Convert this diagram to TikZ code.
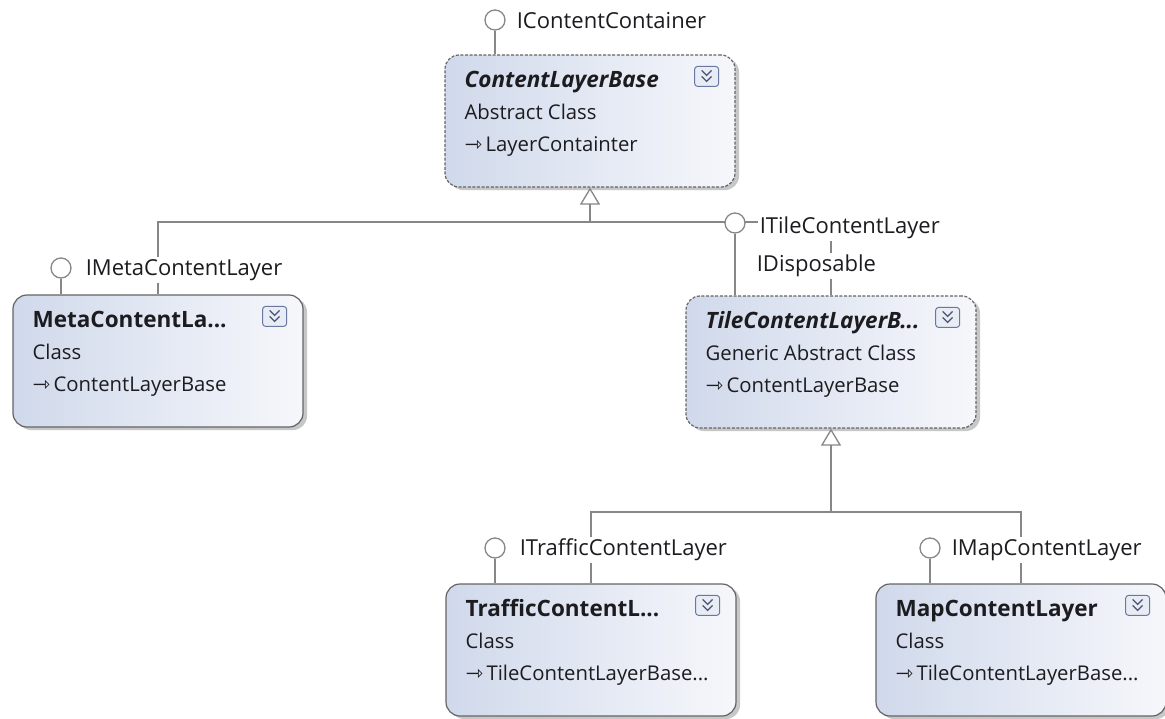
\documentclass[tikz,border=0pt]{standalone}
\usepackage{fontspec}
\setmainfont{Open Sans}
\newfontfamily\arrowfont{DejaVu Sans}
\usetikzlibrary{positioning,shadows,arrows.meta}

\definecolor{BoxBlue}{RGB}{208,217,235}
\definecolor{BoxWhite}{RGB}{246,247,251}
\definecolor{LineGrey}{RGB}{135,135,135}
\definecolor{BorderGrey}{RGB}{100,100,100}
\definecolor{TextDark}{RGB}{28,28,32}
\definecolor{BtnBlue}{RGB}{105,120,160}
\definecolor{BtnFill}{RGB}{232,236,245}

\newcommand{\inh}{{\arrowfont\fontsize{21}{21}\selectfont ⇾}\,}
\newcommand{\ttl}[1]{{\fontsize{22.5}{32}\selectfont\bfseries #1}}

\tikzset{
  classbox/.style={draw=BorderGrey, line width=1.2pt, rounded corners=14pt,
    minimum width=290pt, minimum height=132pt, inner sep=0pt,
    shading angle=120, left color=BoxBlue, right color=BoxWhite,
    drop shadow={shadow xshift=4pt, shadow yshift=-3pt, fill=black!40, opacity=.55}},
  abstractbox/.style={classbox, dash pattern=on 3pt off 1.6pt},
  boxtext/.style={anchor=base west, align=left, inner sep=0pt, text=TextDark,
    font=\fontsize{20.3}{32}\selectfont},
  lolli/.style={circle, draw=LineGrey, line width=1.3pt, fill=white,
    minimum size=20pt, inner sep=0pt},
  iface/.style={anchor=west, fill=white, inner sep=2pt, text=TextDark,
    font=\fontsize{22}{26}\selectfont, text height=16pt, text depth=5.5pt},
  conn/.style={draw=LineGrey, line width=1.3pt},
  inherit/.style={conn, -{Triangle[length=17pt, width=20pt, fill=white, line width=1.3pt]}},
  togglebtn/.pic={
    \draw[BtnBlue, fill=BtnFill, line width=1pt, rounded corners=3pt] (-12,-10) rectangle (12,10);
    \draw[BtnBlue!70!black, line width=1.3pt] (-5,-6) -- (0,-1) -- (5,-6);
    \draw[BtnBlue!70!black, line width=1.3pt] (-5,0) -- (0,5) -- (5,0);
  }
}

\begin{document}
\begin{tikzpicture}[x=1pt, y=-1pt]

  \useasboundingbox[fill=white] (0,0) rectangle (1165,718);

  % class boxes
  \node[abstractbox] (clb) at (590,121) {};
  \node[classbox] (meta) at (158,361) {};
  \node[abstractbox] (tile) at (831,362) {};
  \node[classbox] (traffic) at (591,650) {};
  \node[classbox] (map) at (1021,650) {};

  % box contents (base is the last line)
  \node[boxtext] (clbT) at ([xshift=20pt, yshift=-97pt]clb.north west)
    {\ttl{\itshape ContentLayerBase}\\Abstract Class\\\inh LayerContainter};
  \node[boxtext] (metaT) at ([xshift=20pt, yshift=-97pt]meta.north west)
    {\ttl{MetaContentLa...}\\Class\\\inh ContentLayerBase};
  \node[boxtext] (tileT) at ([xshift=20pt, yshift=-97pt]tile.north west)
    {\ttl{\itshape TileContentLayerB...}\\Generic Abstract Class\\\inh ContentLayerBase};
  \node[boxtext] (trafficT) at ([xshift=20pt, yshift=-97pt]traffic.north west)
    {\ttl{TrafficContentL...}\\Class\\\inh TileContentLayerBase...};
  \node[boxtext] (mapT) at ([xshift=20pt, yshift=-97pt]map.north west)
    {\ttl{MapContentLayer}\\Class\\\inh TileContentLayerBase...};

  \foreach \b in {clb, meta, tile, traffic, map}
    \pic at ([xshift=-29pt, yshift=-22pt]\b.north east) {togglebtn};

  % inheritance
  \coordinate (busTop) at (0,222);
  \coordinate (busLow) at (0,512);
  \draw[conn] (meta.north) -- (meta.north |- busTop) -- (tile.north |- busTop) -- (tile.north);
  \draw[inherit] (clb.south |- busTop) -- (clb.south);
  \draw[conn] (traffic.north) -- (traffic.north |- busLow) -- (map.north |- busLow) -- (map.north);
  \draw[inherit] (tile.south |- busLow) -- (tile.south);

  % interfaces
  \node[lolli] (iccC) at (495,20) {};
  \node[lolli] (imetaC) at (61,268) {};
  \node[lolli] (itileC) at (735,223) {};
  \node[lolli] (itrafficC) at (495,548) {};
  \node[lolli] (imapC) at (930,548) {};

  \draw[conn] (iccC) -- (iccC |- clb.north);
  \draw[conn] (imetaC) -- (imetaC |- meta.north);
  \draw[conn] (itileC) -- (itileC |- tile.north);
  \draw[conn] (itrafficC) -- (itrafficC |- traffic.north);
  \draw[conn] (imapC) -- (imapC |- map.north);

  \node[iface, right=9pt of iccC, yshift=-3pt] (iccL) {IContentContainer};
  \node[iface, right=12pt of imetaC, yshift=-2pt] (imetaL) {IMetaContentLayer};
  \node[iface, right=12pt of itileC, yshift=-5pt] (itileL) {ITileContentLayer};
  \node[iface] (idispL) at ([xshift=-3pt, yshift=-38pt]itileL.west) {IDisposable};
  \node[iface, right=12pt of itrafficC, yshift=-2pt] (itrafficL) {ITrafficContentLayer};
  \node[iface, right=9pt of imapC, yshift=-2pt] (imapL) {IMapContentLayer};

\end{tikzpicture}
\end{document}
